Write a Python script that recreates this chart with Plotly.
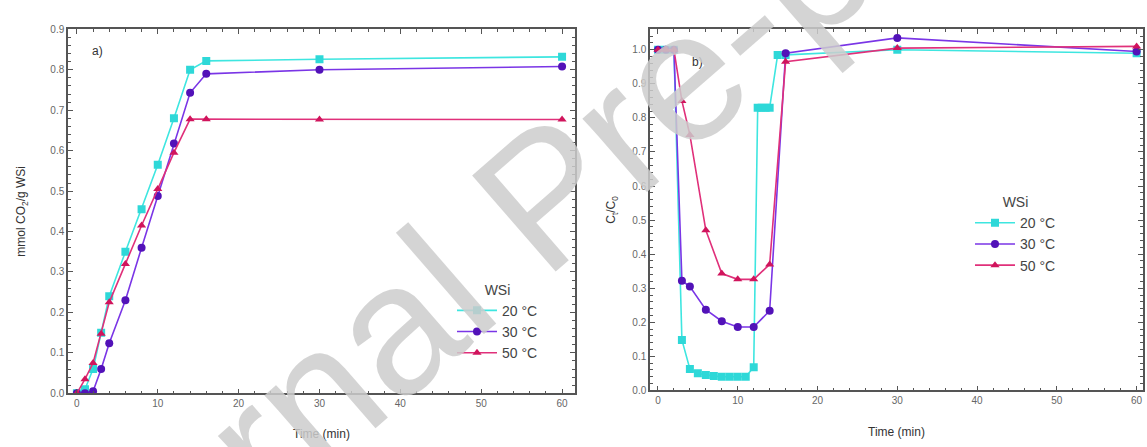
import plotly.graph_objects as go

# ---- panel a: CO2 uptake vs time ----
time_a = [0, 1, 2, 3, 4, 6, 8, 10, 12, 14, 16, 30, 60]
uptake_20 = [0, 0.01, 0.06, 0.15, 0.24, 0.35, 0.455, 0.565, 0.68, 0.80, 0.822, 0.826, 0.832]
uptake_30 = [0, 0, 0.005, 0.06, 0.124, 0.23, 0.36, 0.488, 0.618, 0.743, 0.79, 0.80, 0.808]
uptake_50 = [0, 0.035, 0.075, 0.147, 0.225, 0.32, 0.415, 0.505, 0.595, 0.678, 0.678, 0.677, 0.677]

# ---- panel b: breakthrough curves Ct/C0 ----
time_b20 = [0, 1, 2, 3, 4, 5, 6, 7, 8, 9, 10, 11, 12, 12.5, 13, 13.5, 14, 15, 16, 30, 60]
ratio_20 = [1, 1, 1, 0.148, 0.063, 0.05, 0.045, 0.042, 0.04, 0.04, 0.04, 0.04, 0.068,
            0.83, 0.83, 0.83, 0.83, 0.985, 0.985, 1.0, 0.99]
time_b = [0, 1, 2, 3, 4, 6, 8, 10, 12, 14, 16, 30, 60]
ratio_30 = [1, 1, 1, 0.322, 0.305, 0.237, 0.203, 0.186, 0.186, 0.234, 0.99, 1.035, 0.995]
ratio_50 = [1, 1, 1, 0.85, 0.75, 0.47, 0.343, 0.326, 0.326, 0.37, 0.965, 1.005, 1.01]

labels = ["20 °C", "30 °C", "50 °C"]
line_colors = ["#3ee6e0", "#7a35e6", "#e0307a"]
marker_colors = ["#2ed8d8", "#5212b8", "#d0145c"]
symbols = ["square", "circle", "triangle-up"]

W, H = 1147, 447
FONT = "Liberation Sans, Arial"

fig = go.Figure()

series_a = [(time_a, uptake_20), (time_a, uptake_30), (time_a, uptake_50)]
series_b = [(time_b20, ratio_20), (time_b, ratio_30), (time_b, ratio_50)]

for i, (xs, ys) in enumerate(series_a):
    fig.add_trace(go.Scatter(
        x=xs, y=ys, mode="lines+markers", name=labels[i],
        line=dict(color=line_colors[i], width=1.6),
        marker=dict(symbol=symbols[i], size=8, color=marker_colors[i]),
        xaxis="x", yaxis="y", legend="legend"))

for i, (xs, ys) in enumerate(series_b):
    fig.add_trace(go.Scatter(
        x=xs, y=ys, mode="lines+markers", name=labels[i],
        line=dict(color=line_colors[i], width=1.6),
        marker=dict(symbol=symbols[i], size=8, color=marker_colors[i]),
        xaxis="x2", yaxis="y2", legend="legend2"))

axis_common = dict(
    showline=True, linecolor="#555555", linewidth=1.5, mirror="ticks",
    ticks="inside", ticklen=5, tickwidth=1, tickcolor="#555555",
    showgrid=False, zeroline=False,
    tickfont=dict(family=FONT, size=10, color="#666666"),
    minor=dict(ticks="inside", ticklen=3, tickcolor="#555555"),
)
title_font = dict(family=FONT, size=12, color="#333333")
legend_font = dict(family=FONT, size=14, color="#444444")

fig.update_layout(
    width=W, height=H,
    margin=dict(l=0, r=0, t=0, b=0),
    paper_bgcolor="white", plot_bgcolor="white",
    xaxis=dict(domain=[68 / W, 575 / W], range=[-1.1, 61.6], dtick=10,
               anchor="y", title=dict(text="Time (min)", font=title_font, standoff=22),
               **axis_common),
    yaxis=dict(domain=[1 - 398 / H, 1 - 24 / H], range=[0, 0.9], dtick=0.1,
               tickformat=".1f", anchor="x",
               title=dict(text="mmol CO<sub>2</sub>/g WSi", font=title_font, standoff=22),
               **axis_common),
    xaxis2=dict(domain=[650 / W, 1143 / W], range=[-1.0, 60.8], dtick=10,
                anchor="y2", title=dict(text="Time (min)", font=title_font, standoff=22),
                **axis_common),
    yaxis2=dict(domain=[1 - 395 / H, 1 - 24 / H], range=[0, 1.06], dtick=0.1,
                tickformat=".1f", anchor="x2",
                title=dict(text="C<sub>t</sub>/C<sub>0</sub>", font=title_font, standoff=14),
                **axis_common),
    legend=dict(x=452 / W, y=1 - 278 / H, xanchor="left", yanchor="top",
                bgcolor="rgba(0,0,0,0)", font=legend_font,
                title=dict(text="WSi", side="top center", font=legend_font),
                itemwidth=40, tracegroupgap=0),
    legend2=dict(x=970 / W, y=1 - 188 / H, xanchor="left", yanchor="top",
                 bgcolor="rgba(0,0,0,0)", font=legend_font,
                 title=dict(text="WSi", side="top center", font=legend_font),
                 itemwidth=40, tracegroupgap=0),
    annotations=[
        dict(text="a)", x=90 / W, y=1 - 46 / H, xref="paper", yref="paper",
             showarrow=False, xanchor="left", yanchor="middle",
             font=dict(family=FONT, size=12, color="#333333")),
        dict(text="b)", x=690 / W, y=1 - 58 / H, xref="paper", yref="paper",
             showarrow=False, xanchor="left", yanchor="middle",
             font=dict(family=FONT, size=12, color="#333333")),
        dict(text="Journal Pre-proof", x=545 / W, y=1 - 195 / H, xref="paper", yref="paper",
             showarrow=False, textangle=-41, xanchor="center", yanchor="middle",
             font=dict(family=FONT, size=185, color="rgba(205,205,205,0.85)")),
    ],
)

fig.write_html("out.html")
